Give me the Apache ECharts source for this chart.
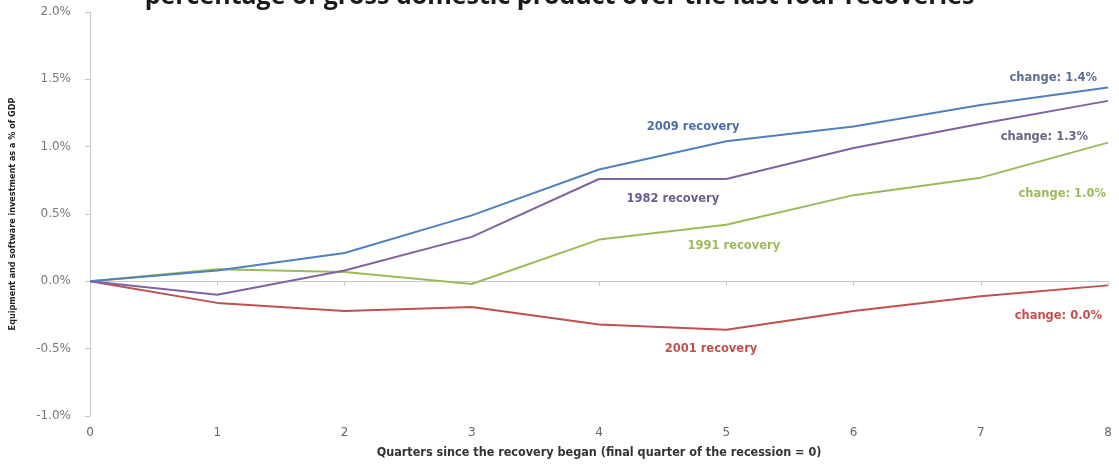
<!DOCTYPE html>
<html>
<head>
<meta charset="utf-8">
<script src="https://cdn.jsdelivr.net/npm/echarts@6/dist/echarts.min.js"></script>
<style>
  html, body { margin: 0; padding: 0; background: #fff; }
  #chart { width: 1119px; height: 466px; }
</style>
</head>
<body>
<div id="chart"></div>
<script>
// quarters since the recovery began
const quarters = [0, 1, 2, 3, 4, 5, 6, 7, 8]
// equipment and software investment as % of GDP, change vs quarter 0
const rec2009 = [0, 0.08, 0.21, 0.49, 0.83, 1.04, 1.15, 1.31, 1.44]
const rec1982 = [0, -0.10, 0.08, 0.33, 0.76, 0.76, 0.99, 1.17, 1.34]
const rec1991 = [0, 0.09, 0.07, -0.02, 0.31, 0.42, 0.64, 0.77, 1.03]
const rec2001 = [0, -0.16, -0.22, -0.19, -0.32, -0.36, -0.22, -0.11, -0.03]
const yTicks = [-1.0, -0.5, 0, 0.5, 1.0, 1.5, 2.0]

// annotation text and where it sits (data coords)
const nameLabels = [
    {text: '2009 recovery', at: [4.74, 1.145], color: '#4a6ea6'},
    {text: '1982 recovery', at: [4.58, 0.61], color: '#6d5b90'},
    {text: '1991 recovery', at: [5.06, 0.26], color: '#9BBB59'},
    {text: '2001 recovery', at: [4.88, -0.505], color: '#C0504D'}
]
const changeLabels = [
    {text: 'change: 1.4%', at: [7.57, 1.51], color: '#5a6c98'},
    {text: 'change: 1.3%', at: [7.50, 1.07], color: '#6d6384'},
    {text: 'change: 1.0%', at: [7.64, 0.65], color: '#9BBB59'},
    {text: 'change: 0.0%', at: [7.61, -0.26], color: '#C0504D'}
]

const lineColors = ['#4F81BD', '#8064A2', '#9BBB59', '#C0504D']
const seriesData = [rec2009, rec1982, rec1991, rec2001]
const narrow = '"DejaVu Sans Condensed", "Liberation Sans", sans-serif'

function pairs(vals) {
    return quarters.map((q, i) => [q, vals[i]])
}

function marks(i) {
    return [nameLabels[i], changeLabels[i]].map(l => ({
        coord: l.at,
        label: {
            show: true,
            position: 'inside',
            formatter: l.text,
            color: l.color,
            fontFamily: 'DejaVu Sans',
            fontWeight: 'bold',
            fontSize: 11.5
        }
    }))
}

const chart = echarts.init(document.getElementById('chart'))
chart.setOption({
    animation: false,
    title: {
        text: 'percentage of gross domestic product over the last four recoveries',
        left: 'center',
        top: -21,
        textStyle: {fontFamily: 'Open Sans', fontWeight: 'bold', fontSize: 25, color: '#1a1a1a'}
    },
    grid: {left: 89, right: 11, top: 12, bottom: 50},
    xAxis: [
        {
            type: 'value', min: 0, max: 8, interval: 1, position: 'bottom',
            name: 'Quarters since the recovery began (final quarter of the recession = 0)',
            nameLocation: 'middle', nameGap: 30,
            nameTextStyle: {fontFamily: narrow, fontWeight: 'bold', fontSize: 12.5, color: '#333'},
            axisLine: {show: false, onZero: false},
            axisTick: {show: false},
            splitLine: {show: false},
            axisLabel: {margin: 11, color: '#666', fontFamily: 'DejaVu Sans', fontSize: 12}
        },
        {
            type: 'value', min: 0, max: 8, interval: 1, position: 'top',
            axisLine: {show: true, onZero: true, lineStyle: {color: '#c8c8c8', width: 1}},
            axisTick: {show: true, inside: true, length: 4, lineStyle: {color: '#c8c8c8'}},
            axisLabel: {show: false},
            splitLine: {show: false}
        }
    ],
    yAxis: {
        type: 'value', min: yTicks[0], max: yTicks[yTicks.length - 1], interval: 0.5,
        name: 'Equipment and software investment as a % of GDP',
        nameLocation: 'middle', nameGap: 73,
        nameTextStyle: {fontFamily: narrow, fontWeight: 'bold', fontSize: 9, color: '#222'},
        axisLine: {show: true, lineStyle: {color: '#c8c8c8'}},
        axisTick: {show: true, length: 5, lineStyle: {color: '#c8c8c8'}},
        splitLine: {show: false},
        axisLabel: {
            margin: 19, color: '#777', fontFamily: 'DejaVu Sans', fontSize: 12,
            formatter: v => v.toFixed(1) + '%'
        }
    },
    series: seriesData.map((vals, i) => ({
        type: 'line',
        xAxisIndex: 0,
        data: pairs(vals),
        showSymbol: false,
        symbol: 'none',
        lineStyle: {color: lineColors[i], width: 2},
        z: 10 - i,
        markPoint: {
            symbol: 'circle',
            symbolSize: 1,
            itemStyle: {color: 'transparent'},
            data: marks(i)
        }
    }))
})
</script>
</body>
</html>
